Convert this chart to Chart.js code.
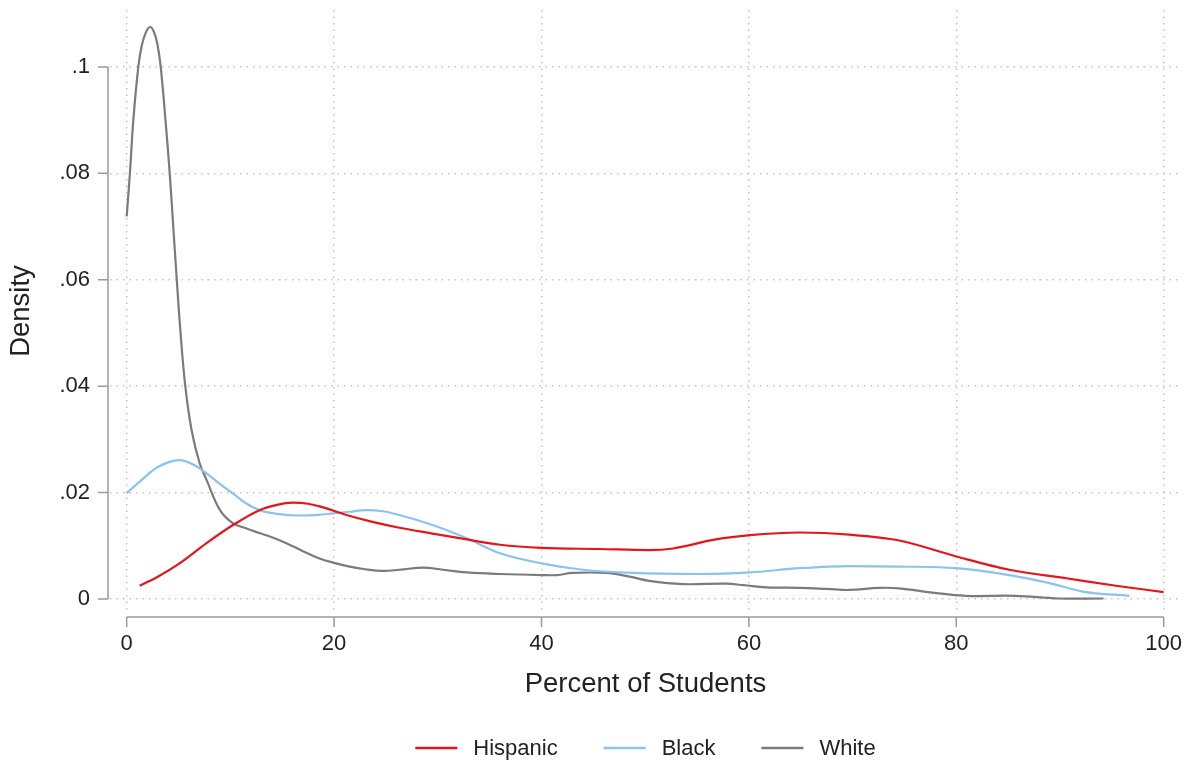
<!DOCTYPE html>
<html>
<head>
<meta charset="utf-8">
<script src="https://cdn.jsdelivr.net/npm/chart.js@4/dist/chart.umd.min.js"></script>
<style>
  html, body { margin: 0; padding: 0; background: #ffffff; }
  #wrap { width: 1191px; height: 766px; position: relative; }
</style>
</head>
<body>
<div id="wrap"><canvas id="chart"></canvas></div>
<script>
// Kernel density of the share of students by group (percent of students, 0-100)
const seriesNames = ['Hispanic', 'Black', 'White'];
const seriesColors = ['#e3161c', '#8ac4ec', '#7b7b7b'];

const hispanicX = [1.25, 3, 5.1, 7.7, 10.25, 12.8, 14.5, 16.0, 17.5, 18.6, 21.2, 23.5, 26.3, 29.5, 32.8, 36, 40, 45.6, 50.4, 52.7, 56.8, 60.1, 64.9, 69.7, 74.5, 80, 85.1, 90.6, 95.4, 100];
const hispanicY = [0.0025, 0.0042, 0.0067, 0.0105, 0.0139, 0.0167, 0.0177, 0.0181, 0.0179, 0.0174, 0.0158, 0.0146, 0.0134, 0.0123, 0.0112, 0.0102, 0.0096, 0.0094, 0.0092, 0.0095, 0.0112, 0.0120, 0.0125, 0.0121, 0.0110, 0.0080, 0.0055, 0.0039, 0.0025, 0.0013];

const blackX = [0, 1.5, 3, 5.1, 6.5, 7.7, 9, 10.2, 11.5, 12.8, 14.5, 16.7, 18.5, 19.9, 21.5, 23.1, 24.7, 26.3, 29.5, 32.8, 36, 40, 44, 48.8, 55.2, 60.1, 64.9, 69.7, 74.5, 80, 85.1, 89, 92.2, 96.7];
const blackY = [0.0199, 0.0225, 0.0248, 0.0261, 0.0252, 0.0236, 0.0216, 0.0199, 0.0180, 0.0167, 0.0160, 0.0157, 0.0158, 0.0161, 0.0164, 0.0167, 0.0165, 0.0158, 0.0139, 0.0114, 0.0086, 0.0067, 0.0055, 0.0049, 0.0047, 0.0050, 0.0058, 0.0062, 0.0061, 0.0058, 0.0045, 0.0030, 0.0014, 0.0006];

const whiteX = [0, 0.32, 0.64, 1.12, 1.45, 1.85, 2.25, 2.6, 2.95, 3.28, 3.74, 4.14, 4.51, 4.82, 5.17, 5.64, 6.25, 7.02, 7.70, 9.0, 10.2, 11.5, 12.8, 14.0, 15.4, 17.0, 18.6, 20.0, 21.5, 23.0, 24.7, 26.3, 28.6, 30.5, 32.8, 36, 40, 41.5, 43, 46.2, 48.5, 50.4, 53.6, 57.8, 59.5, 61.7, 64.9, 67.5, 69.7, 72.6, 74.5, 77.7, 80.9, 85.7, 89.9, 94.2];
const whiteY = [0.0719, 0.0803, 0.0900, 0.1000, 0.1040, 0.1065, 0.1075, 0.1067, 0.1044, 0.1000, 0.0900, 0.0802, 0.0694, 0.0603, 0.0506, 0.0402, 0.0318, 0.0256, 0.0224, 0.0167, 0.0143, 0.0133, 0.0124, 0.0116, 0.0105, 0.0090, 0.0076, 0.0068, 0.0061, 0.0056, 0.0053, 0.0055, 0.0059, 0.0055, 0.0050, 0.0047, 0.0045, 0.0045, 0.0049, 0.0049, 0.0042, 0.0034, 0.0028, 0.0029, 0.0026, 0.0022, 0.0021, 0.0019, 0.0017, 0.0021, 0.0020, 0.0012, 0.0006, 0.0006, 0.0001, 0.0001];

const xTicks = [0, 20, 40, 60, 80, 100];
const yTicks = [0, 0.02, 0.04, 0.06, 0.08, 0.1];

const xTitle = 'Percent of Students';
const yTitle = 'Density';

const FONT = '"Liberation Sans", Arial, Helvetica, sans-serif';
const TEXT = '#222222';
const AXIS = '#9a9a9a';

function pairs(xs, ys) { return xs.map((x, i) => ({ x: x, y: ys[i] })); }

function fmtY(v) {
  if (Math.abs(v) < 1e-9) return '0';
  return String(Number(v.toFixed(3))).replace(/^0\./, '.');
}

// Offset axis lines with outward tick marks, spanning only the tick range
const offsetAxes = {
  id: 'offsetAxes',
  afterDraw(chart) {
    const { ctx, chartArea } = chart;
    const xs = chart.scales.x, ys = chart.scales.y;
    ctx.save();
    ctx.strokeStyle = AXIS;
    ctx.lineWidth = 1.5;
    ctx.lineCap = 'butt';
    // y axis
    const ax = chartArea.left - 2;
    ctx.beginPath();
    ctx.moveTo(ax, ys.getPixelForValue(yTicks[yTicks.length - 1]));
    ctx.lineTo(ax, ys.getPixelForValue(yTicks[0]));
    yTicks.forEach(v => {
      const p = ys.getPixelForValue(v);
      ctx.moveTo(ax, p);
      ctx.lineTo(ax - 10, p);
    });
    ctx.stroke();
    // x axis
    const ay = chartArea.bottom + 5;
    ctx.beginPath();
    ctx.moveTo(xs.getPixelForValue(xTicks[0]), ay);
    ctx.lineTo(xs.getPixelForValue(xTicks[xTicks.length - 1]), ay);
    xTicks.forEach(v => {
      const p = xs.getPixelForValue(v);
      ctx.moveTo(p, ay);
      ctx.lineTo(p, ay + 10);
    });
    ctx.stroke();
    ctx.restore();
  }
};

// Legend row under the x axis title: short line sample followed by the series name
const lineLegend = {
  id: 'lineLegend',
  afterDraw(chart) {
    const { ctx, chartArea } = chart;
    const size = 22;
    const sample = 42, gapText = 16, gapItem = 46;
    ctx.save();
    ctx.font = size + 'px ' + FONT;
    const items = chart.data.datasets.map(ds => ({
      label: ds.label, color: ds.borderColor, w: ctx.measureText(ds.label).width
    }));
    const total = items.reduce((s, it) => s + sample + gapText + it.w, 0) + gapItem * (items.length - 1);
    let x = (chartArea.left + chartArea.right) / 2 - total / 2;
    const y = 748;
    ctx.textBaseline = 'middle';
    ctx.textAlign = 'left';
    items.forEach(it => {
      ctx.strokeStyle = it.color;
      ctx.lineWidth = 2.5;
      ctx.beginPath();
      ctx.moveTo(x, y);
      ctx.lineTo(x + sample, y);
      ctx.stroke();
      x += sample + gapText;
      ctx.fillStyle = TEXT;
      ctx.fillText(it.label, x, y + 1);
      x += it.w + gapItem;
    });
    ctx.restore();
  }
};

const datasets = [
  { label: seriesNames[0], data: pairs(hispanicX, hispanicY), borderColor: seriesColors[0], cubicInterpolationMode: 'monotone' },
  { label: seriesNames[1], data: pairs(blackX, blackY), borderColor: seriesColors[1], cubicInterpolationMode: 'monotone' },
  { label: seriesNames[2], data: pairs(whiteX, whiteY), borderColor: seriesColors[2], cubicInterpolationMode: 'default', tension: 0.4 }
].map(d => Object.assign(d, {
  borderWidth: 2.2,
  pointRadius: 0,
  fill: false
}));

new Chart(document.getElementById('chart'), {
  type: 'line',
  data: { datasets: datasets },
  plugins: [offsetAxes, lineLegend],
  options: {
    responsive: true,
    maintainAspectRatio: false,
    animation: false,
    events: [],
    layout: { padding: { top: 10, right: 10, left: 0, bottom: 54 } },
    plugins: {
      legend: { display: false },
      tooltip: { enabled: false }
    },
    scales: {
      x: {
        type: 'linear',
        min: -1.61,
        max: 101.67,
        afterBuildTicks: s => { s.ticks = xTicks.map(v => ({ value: v })); },
        afterFit: s => { s.height = 100; s.paddingLeft = 0; s.paddingRight = 0; },
        grid: { color: '#c4c4c4', lineWidth: 1.5, drawTicks: false },
        border: { display: false, dash: [1.5, 5] },
        ticks: {
          padding: 19,
          color: TEXT,
          font: { family: FONT, size: 22 },
          maxRotation: 0,
          callback: v => String(v)
        },
        title: {
          display: true,
          text: xTitle,
          color: TEXT,
          font: { family: FONT, size: 27.5 },
          padding: { top: 0, bottom: 11 }
        }
      },
      y: {
        type: 'linear',
        min: -0.00244,
        max: 0.1107,
        afterBuildTicks: s => { s.ticks = yTicks.map(v => ({ value: v })); },
        afterFit: s => { s.width = 110; s.paddingTop = 0; s.paddingBottom = 0; },
        grid: { color: '#c4c4c4', lineWidth: 1.5, drawTicks: false },
        border: { display: false, dash: [1.5, 5] },
        ticks: {
          padding: 20,
          color: TEXT,
          font: { family: FONT, size: 22 },
          callback: v => fmtY(v)
        },
        title: {
          display: true,
          text: yTitle,
          color: TEXT,
          font: { family: FONT, size: 27.5 },
          padding: { top: 5, bottom: 0 }
        }
      }
    }
  }
});
</script>
</body>
</html>
